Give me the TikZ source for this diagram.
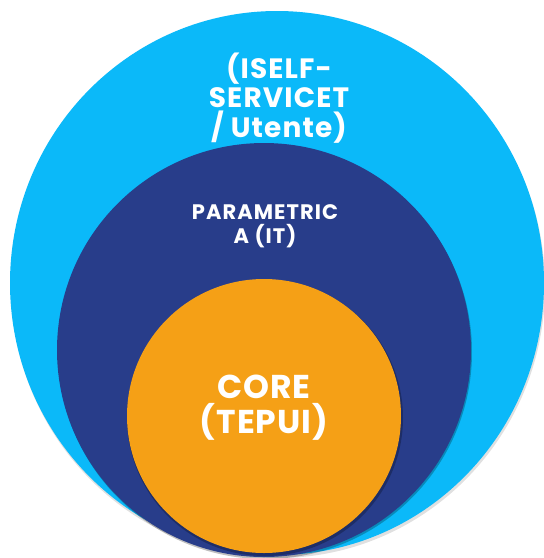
\documentclass[tikz,border=0pt]{standalone}
\usepackage{fontspec}
\setmainfont{Poppins}[BoldFont={Poppins Bold}]
\definecolor{cyanc}{HTML}{0BB9F9}
\definecolor{navyc}{HTML}{283D8A}
\definecolor{orangec}{HTML}{F5A016}
\begin{document}
\begin{tikzpicture}[x=1pt,y=-1pt,
  lbl/.style={text=white,align=center,inner sep=0pt}]
\useasboundingbox (0,0) rectangle (544,558);
\fill[black,opacity=0.12] (278,286) ellipse [x radius=267,y radius=272];
\fill[cyanc] (277,283) ellipse [x radius=267,y radius=272];
\fill[black,opacity=0.25] (265,352) circle [radius=207];
\fill[navyc] (264,350) circle [radius=207];
\fill[black,opacity=0.25] (265,418) circle [radius=138];
\fill[orangec] (264,416) circle [radius=137];
\node[lbl,font=\bfseries\fontsize{28}{29.5}\selectfont\addfontfeatures{LetterSpace=4}] (outer) at (279,98) {(ISELF-\\SERVICET\\/ Utente)};
\node[lbl,font=\bfseries\fontsize{21}{24}\selectfont\addfontfeatures{LetterSpace=5}] (mid) at (265,226) {PARAMETRIC\\A (IT)};
\node[lbl,font=\bfseries\fontsize{33}{35}\selectfont\addfontfeatures{LetterSpace=3}] (core) at (264,408) {CORE\\(TEPUI)};
\end{tikzpicture}
\end{document}
